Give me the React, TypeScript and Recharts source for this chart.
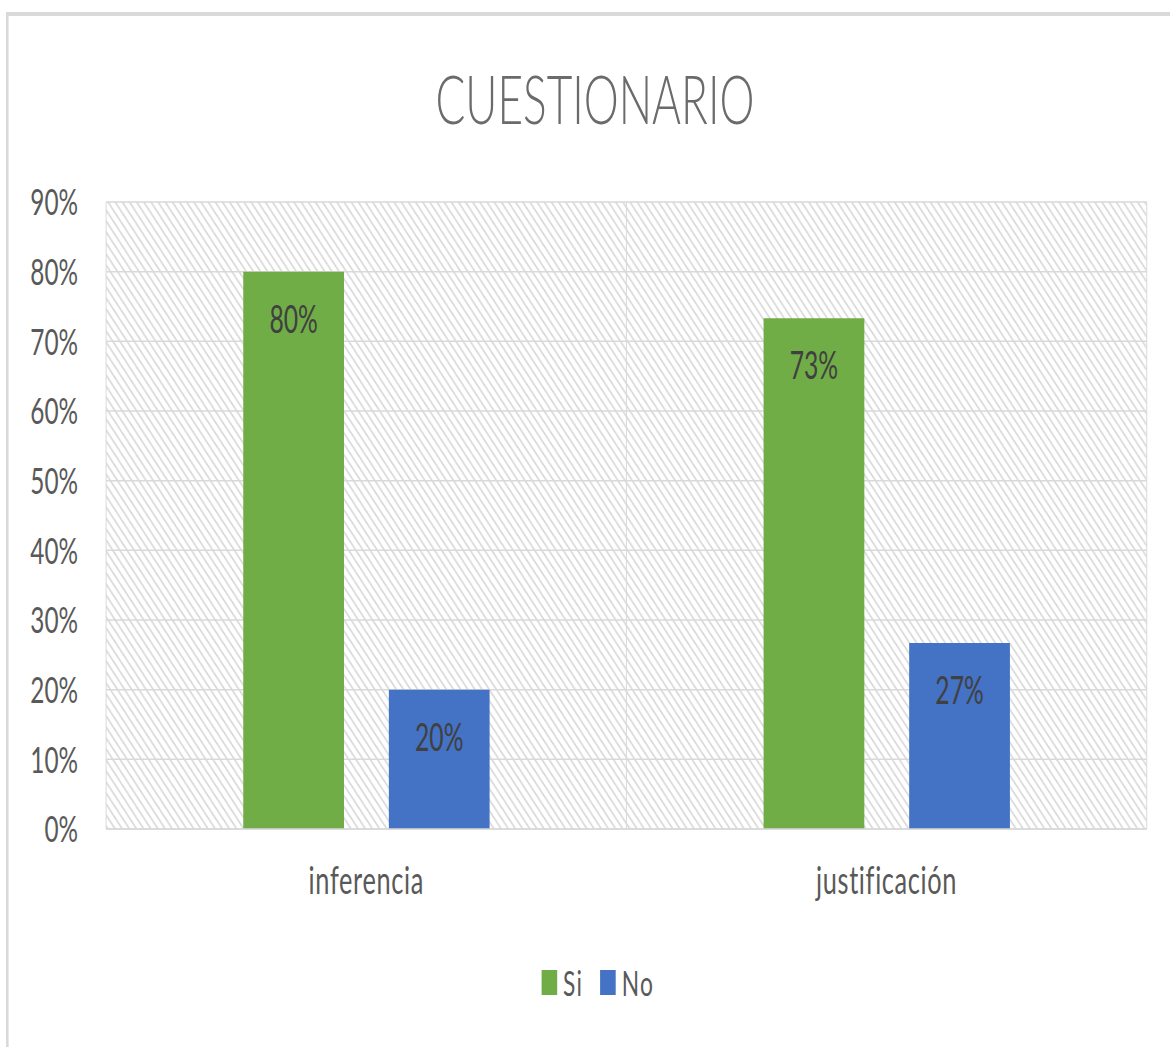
import React from 'react';
import { BarChart, Bar, XAxis, YAxis, CartesianGrid, Legend, LabelList } from 'recharts';

const chartTitle = 'CUESTIONARIO';
const categories = ['inferencia', 'justificación'];
const siValues = [0.8, 0.733];
const noValues = [0.2, 0.267];
const seriesNames = ['Si', 'No'];
const seriesColors = ['#70AD47', '#4472C4'];
const yTicks = [0, 0.1, 0.2, 0.3, 0.4, 0.5, 0.6, 0.7, 0.8, 0.9];

const data = categories.map((c, i) => ({ category: c, Si: siValues[i], No: noValues[i] }));

const FONT = "Lato, 'Open Sans', 'Noto Sans', sans-serif";
const SCALE_X = 0.65;
const fmt = (v: number) => `${Math.round(v * 100)}%`;

const renderLabel = (props: any) => {
  const { x, y, width, value } = props;
  return (
    <text
      x={Number(x) + Number(width) / 2}
      y={Number(y) + 61}
      textAnchor="middle"
      fill="#404040"
      fontSize={38}
      fontFamily={FONT}
    >
      {fmt(Number(value))}
    </text>
  );
};

const XTick = (props: any) => {
  const { x, y, payload } = props;
  return (
    <text x={x} y={Number(y) + 65} textAnchor="middle" fill="#595959" fontSize={39} letterSpacing={1} fontFamily={FONT}>
      {payload.value}
    </text>
  );
};

const renderLegend = (props: any) => {
  const items = [...(props.payload || [])].sort(
    (a: any, b: any) => seriesNames.indexOf(a.value) - seriesNames.indexOf(b.value)
  );
  return (
    <div
      style={{
        display: 'flex',
        alignItems: 'center',
        height: 44,
        fontFamily: FONT,
        fontSize: 35,
        letterSpacing: 2,
        color: '#595959',
        whiteSpace: 'nowrap',
      }}
    >
      {items.map((p: any, i: number) => (
        <div key={p.value} style={{ display: 'flex', alignItems: 'center', marginRight: i === 0 ? 26 : 0 }}>
          <span style={{ display: 'inline-block', width: 24, height: 25, background: p.color, marginRight: 9 }} />
          <span>{p.value}</span>
        </div>
      ))}
    </div>
  );
};

export default function App() {
  return (
    <div style={{ position: 'absolute', left: 0, top: 0, width: 1170, height: 1047, overflow: 'hidden', background: '#fff' }}>
      <div
        style={{
          position: 'absolute',
          left: 6,
          top: 12,
          width: 1800,
          height: 1045,
          boxSizing: 'border-box',
          border: '4px solid #d9d9d9',
          background: '#fff',
          transform: `scaleX(${SCALE_X})`,
          transformOrigin: '0 0',
        }}
      >
        <BarChart
          width={1792}
          height={1037}
          data={data}
          margin={{ top: 186, right: 41, bottom: 124, left: 0 }}
          barSize={155}
          barGap={69}
        >
          <defs>
            <pattern id="hatch" patternUnits="userSpaceOnUse" width="11" height="11">
              <rect width="11" height="11" fill="#ffffff" />
              <path d="M0,0 L11,11 M-3,8 L3,14 M8,-3 L14,3" stroke="#d9d9d9" strokeWidth="2.2" />
            </pattern>
          </defs>
          <text x={902} y={108} textAnchor="middle" fontSize={68} fontWeight={300} fill="#6b6b6b" fontFamily={FONT}>
            {chartTitle}
          </text>
          <CartesianGrid
            stroke="#d9d9d9"
            strokeWidth={1.5}
            fill="url(#hatch)"
            fillOpacity={1}
            verticalCoordinatesGenerator={({ offset }: any) => [
              offset.left,
              offset.left + offset.width / 2,
              offset.left + offset.width,
            ]}
          />
          <XAxis
            dataKey="category"
            axisLine={{ stroke: '#d9d9d9', strokeWidth: 1.5 }}
            tickLine={false}
            tickSize={0}
            tickMargin={0}
            height={100}
            interval={0}
            tick={<XTick />}
          />
          <YAxis
            domain={[0, 0.9]}
            ticks={yTicks}
            axisLine={false}
            tickLine={false}
            tickSize={0}
            tickMargin={43}
            width={150}
            tickFormatter={fmt}
            tick={{ fill: '#595959', fontSize: 37.5, fontFamily: FONT }}
          />
          <Legend
            verticalAlign="middle"
            align="center"
            layout="horizontal"
            wrapperStyle={{ top: 944, left: 820, width: 'auto', height: 44 }}
            content={renderLegend}
          />
          <Bar dataKey="Si" name={seriesNames[0]} fill={seriesColors[0]} isAnimationActive={false}>
            <LabelList dataKey="Si" content={renderLabel} />
          </Bar>
          <Bar dataKey="No" name={seriesNames[1]} fill={seriesColors[1]} isAnimationActive={false}>
            <LabelList dataKey="No" content={renderLabel} />
          </Bar>
        </BarChart>
      </div>
    </div>
  );
}
